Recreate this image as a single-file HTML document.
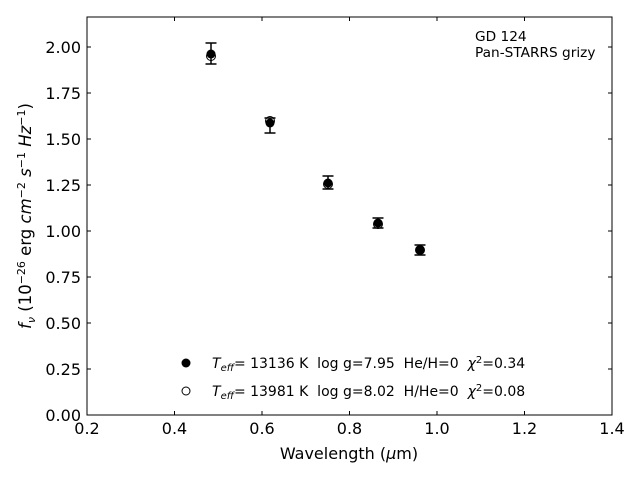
<!DOCTYPE html>
<html><head><meta charset="utf-8"><style>
html,body{margin:0;padding:0;background:#fff;}
svg{display:block;font-family:"DejaVu Sans","Liberation Sans",sans-serif;}
text{white-space:pre;}
</style></head><body>
<svg width="640" height="480" viewBox="0 0 640 480" xmlns="http://www.w3.org/2000/svg" xml:space="preserve">
<rect width="640" height="480" fill="#fff"/>
<rect x="87" y="17" width="525" height="398" fill="none" stroke="#000" stroke-width="1"/>
<g stroke="#000" stroke-width="1">
<line x1="87" y1="415" x2="87" y2="411"/><line x1="87" y1="17" x2="87" y2="21"/>
<line x1="174.5" y1="415" x2="174.5" y2="411"/><line x1="174.5" y1="17" x2="174.5" y2="21"/>
<line x1="262" y1="415" x2="262" y2="411"/><line x1="262" y1="17" x2="262" y2="21"/>
<line x1="349.5" y1="415" x2="349.5" y2="411"/><line x1="349.5" y1="17" x2="349.5" y2="21"/>
<line x1="437" y1="415" x2="437" y2="411"/><line x1="437" y1="17" x2="437" y2="21"/>
<line x1="524.5" y1="415" x2="524.5" y2="411"/><line x1="524.5" y1="17" x2="524.5" y2="21"/>
<line x1="612" y1="415" x2="612" y2="411"/><line x1="612" y1="17" x2="612" y2="21"/>
<line x1="87" y1="415" x2="91" y2="415"/><line x1="612" y1="415" x2="608" y2="415"/>
<line x1="87" y1="369" x2="91" y2="369"/><line x1="612" y1="369" x2="608" y2="369"/>
<line x1="87" y1="323" x2="91" y2="323"/><line x1="612" y1="323" x2="608" y2="323"/>
<line x1="87" y1="277" x2="91" y2="277"/><line x1="612" y1="277" x2="608" y2="277"/>
<line x1="87" y1="231" x2="91" y2="231"/><line x1="612" y1="231" x2="608" y2="231"/>
<line x1="87" y1="185" x2="91" y2="185"/><line x1="612" y1="185" x2="608" y2="185"/>
<line x1="87" y1="139" x2="91" y2="139"/><line x1="612" y1="139" x2="608" y2="139"/>
<line x1="87" y1="93" x2="91" y2="93"/><line x1="612" y1="93" x2="608" y2="93"/>
<line x1="87" y1="47" x2="91" y2="47"/><line x1="612" y1="47" x2="608" y2="47"/>
</g>
<g font-size="16" fill="#000" text-anchor="middle">
<text x="87" y="434">0.2</text><text x="174.5" y="434">0.4</text><text x="262" y="434">0.6</text>
<text x="349.5" y="434">0.8</text><text x="437" y="434">1.0</text><text x="524.5" y="434">1.2</text><text x="612" y="434">1.4</text>
</g>
<g font-size="16" fill="#000" text-anchor="end">
<text x="81" y="421">0.00</text><text x="81" y="375">0.25</text><text x="81" y="329">0.50</text>
<text x="81" y="283">0.75</text><text x="81" y="237">1.00</text><text x="81" y="191">1.25</text>
<text x="81" y="145">1.50</text><text x="81" y="99">1.75</text><text x="81" y="53">2.00</text>
</g>
<text x="349" y="459" font-size="16" text-anchor="middle">Wavelength (<tspan font-style="italic">μ</tspan>m)</text>
<text transform="translate(31,216) rotate(-90)" font-size="16.5" text-anchor="middle"><tspan font-style="italic">f<tspan font-size="11" dy="4">ν</tspan></tspan><tspan dy="-4"> (10</tspan><tspan font-size="11" dy="-6">−26</tspan><tspan dy="6"> erg </tspan><tspan font-style="italic">cm</tspan><tspan font-size="11" dy="-6">−2</tspan><tspan dy="6" font-style="italic"> s</tspan><tspan font-size="11" dy="-6">−1</tspan><tspan dy="6" font-style="italic"> Hz</tspan><tspan font-size="11" dy="-6">−1</tspan><tspan dy="6">)</tspan></text>
<g stroke="#000" stroke-width="1.5" fill="none">
<line x1="211" y1="43" x2="211" y2="64"/><line x1="205.5" y1="43" x2="216.5" y2="43"/><line x1="205.5" y1="64" x2="216.5" y2="64"/>
<line x1="270" y1="118" x2="270" y2="133"/><line x1="264.5" y1="118" x2="275.5" y2="118"/><line x1="264.5" y1="133" x2="275.5" y2="133"/>
<line x1="328" y1="176" x2="328" y2="189"/><line x1="322.5" y1="176" x2="333.5" y2="176"/><line x1="322.5" y1="189" x2="333.5" y2="189"/>
<line x1="378" y1="218" x2="378" y2="228"/><line x1="372.5" y1="218" x2="383.5" y2="218"/><line x1="372.5" y1="228" x2="383.5" y2="228"/>
<line x1="420" y1="245" x2="420" y2="255"/><line x1="414.5" y1="245" x2="425.5" y2="245"/><line x1="414.5" y1="255" x2="425.5" y2="255"/>
</g>
<g fill="#000">
<circle cx="211" cy="54" r="4.5"/><circle cx="270" cy="123" r="4.5"/><circle cx="328" cy="183" r="4.5"/>
<circle cx="378" cy="223" r="4.5"/><circle cx="420" cy="250" r="4.5"/>
</g>
<g fill="none" stroke="#000" stroke-width="1">
<circle cx="211" cy="56" r="4.5"/><circle cx="270" cy="121" r="4.5"/><circle cx="328" cy="184" r="4.5"/>
<circle cx="378" cy="224" r="4.5"/><circle cx="420" cy="250" r="4.5"/>
</g>
<text x="475" y="41" font-size="13.7">GD 124</text>
<text x="475" y="57" font-size="13.7">Pan-STARRS grizy</text>
<circle cx="186" cy="363" r="4.5" fill="#000"/>
<circle cx="186" cy="391" r="4" fill="none" stroke="#000" stroke-width="1"/>
<text x="212" y="368" font-size="14"><tspan font-style="italic">T</tspan><tspan font-style="italic" font-size="10" dy="3">eff</tspan><tspan dy="-3">= 13136 K  log g=7.95  He/H=0  </tspan><tspan font-style="italic">χ</tspan><tspan font-size="10" dy="-5">2</tspan><tspan dy="5">=0.34</tspan></text>
<text x="212" y="396" font-size="14"><tspan font-style="italic">T</tspan><tspan font-style="italic" font-size="10" dy="3">eff</tspan><tspan dy="-3">= 13981 K  log g=8.02  H/He=0  </tspan><tspan font-style="italic">χ</tspan><tspan font-size="10" dy="-5">2</tspan><tspan dy="5">=0.08</tspan></text>
</svg>
</body></html>
